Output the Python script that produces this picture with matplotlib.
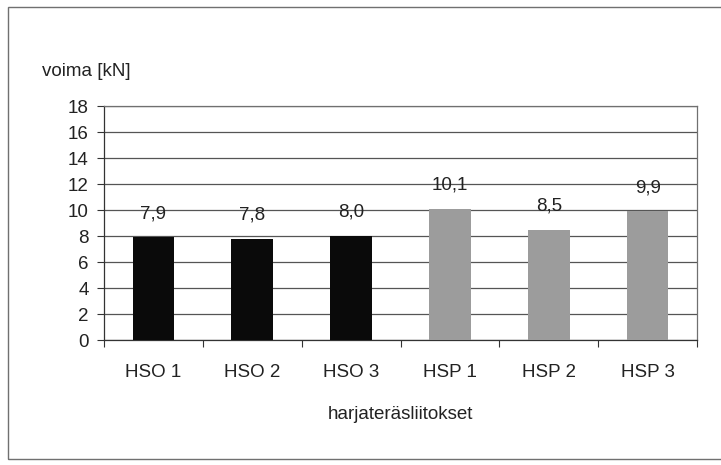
import matplotlib.pyplot as plt
from matplotlib.patches import Rectangle

# force per joint type
labels = ["HSO 1", "HSO 2", "HSO 3", "HSP 1", "HSP 2", "HSP 3"]
forces = [7.9, 7.8, 8.0, 10.1, 8.5, 9.9]
bar_colors = ["#0a0a0a", "#0a0a0a", "#0a0a0a", "#9c9c9c", "#9c9c9c", "#9c9c9c"]
y_ticks = [0, 2, 4, 6, 8, 10, 12, 14, 16, 18]

plt.rcParams["font.family"] = ["Liberation Sans", "DejaVu Sans"]
plt.rcParams["font.size"] = 13.5

W, H = 721, 465
fig = plt.figure(figsize=(W / 100, H / 100), dpi=100)
ax = fig.add_axes([104 / W, 1 - 340 / H, (697 - 104) / W, (340 - 106) / H])

# chart area border (right side runs past the edge)
fig.patches.append(Rectangle((8 / W, 1 - 459 / H), 1.2, (459 - 7) / H,
                             transform=fig.transFigure, fill=False,
                             edgecolor="#707070", linewidth=1.0))

x = range(len(labels))
bars = ax.bar(x, forces, width=0.42, color=bar_colors, zorder=3)

# value labels with decimal comma
for rect, val in zip(bars, forces):
    ax.annotate(f"{val:.1f}".replace(".", ","),
                (rect.get_x() + rect.get_width() / 2, val),
                xytext=(0, 11), textcoords="offset points",
                ha="center", va="bottom", color="#222222")

ax.set_xlim(-0.5, len(labels) - 0.5)
ax.set_ylim(0, 18)
ax.set_yticks(y_ticks)
ax.set_xticks(list(x))
ax.set_xticklabels(labels)
ax.set_xticks([i - 0.5 for i in range(len(labels) + 1)], minor=True)

ax.yaxis.grid(True, color="#555555", linewidth=0.9, zorder=0)
ax.tick_params(axis="y", direction="out", length=5, width=0.8, pad=6,
               colors="#333333", labelcolor="#222222")
ax.tick_params(axis="x", which="major", length=0, pad=17, labelcolor="#222222")
ax.tick_params(axis="x", which="minor", direction="out", length=5,
               width=0.8, color="#333333")

for side in ["top", "right"]:
    ax.spines[side].set_color("#707070")
    ax.spines[side].set_linewidth(0.9)
for side in ["left", "bottom"]:
    ax.spines[side].set_color("#333333")
    ax.spines[side].set_linewidth(0.9)

ax.set_xlabel("harjateräsliitokset", labelpad=18, color="#222222")
fig.text(42 / W, 1 - 72 / H, "voima [kN]", ha="left", va="center",
         color="#222222")

fig.savefig("out.png", dpi=100)
